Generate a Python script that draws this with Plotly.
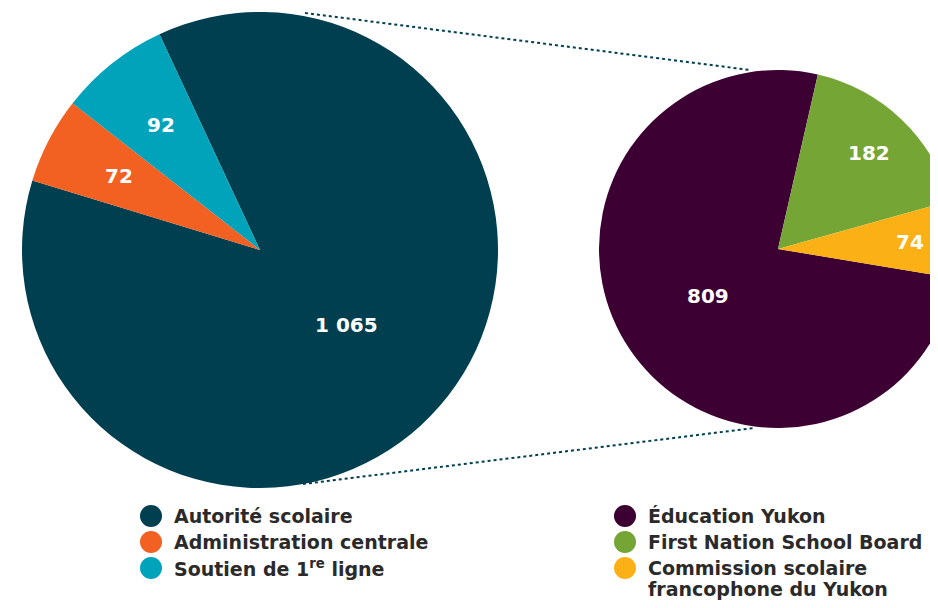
import math
import plotly.graph_objects as go

# ---- data ----
left_labels = ["Autorité scolaire", "Administration centrale", "Soutien de 1<sup>re</sup> ligne"]
left_values = [1065, 72, 92]
left_text = ["1 065", "72", "92"]
left_colors = ["#003f50", "#f26122", "#00a3b9"]

right_labels = ["Éducation Yukon", "First Nation School Board", "Commission scolaire<br>francophone du Yukon"]
right_values = [809, 182, 74]
right_text = ["809", "182", "74"]
right_colors = ["#3d0033", "#74a535", "#fbb116"]

# ---- style / layout constants (pixels in the 938x608 view) ----
OFF = 8                      # page body margin
W, H = 960, 600
FONT = "DejaVu Sans"
TXT = "#2b2a2a"
LEFT_ROT, RIGHT_ROT = -25, 99.4
left_label_r = [0.48, 0.67, 0.67]
right_label_r = [0.47, 0.74, 0.74]

def px_x(x):
    return (x - OFF) / W

def px_y(y):
    return (H - (y - OFF)) / H

Lc, Lr = (260, 250), 238
Rc, Rr = (778, 249), 179

fig = go.Figure()
annotations = []
shapes = []

def add_pie(labels, values, texts, colors, rot, centre, radius, label_r):
    fig.add_trace(go.Pie(
        labels=labels, values=values, textinfo="none",
        marker=dict(colors=colors, line=dict(width=0)),
        sort=False, direction="clockwise", rotation=rot,
        domain=dict(x=[px_x(centre[0] - radius), px_x(centre[0] + radius)],
                    y=[px_y(centre[1] + radius), px_y(centre[1] - radius)]),
        showlegend=False, hoverinfo="label+value",
    ))
    total = sum(values)
    start = rot
    for v, t, fr in zip(values, texts, label_r):
        span = 360.0 * v / total
        mid = math.radians(start + span / 2)
        x = centre[0] + fr * radius * math.sin(mid)
        y = centre[1] - fr * radius * math.cos(mid)
        annotations.append(dict(xref="paper", yref="paper", x=px_x(x), y=px_y(y),
                                xanchor="center", yanchor="middle", text=t, showarrow=False,
                                font=dict(family=FONT, size=20, color="white", weight="bold")))
        start += span

add_pie(left_labels, left_values, left_text, left_colors, LEFT_ROT, Lc, Lr, left_label_r)
add_pie(right_labels, right_values, right_text, right_colors, RIGHT_ROT, Rc, Rr, right_label_r)

# connector dotted lines
for (x0, y0, x1, y1) in [(305, 13, 750, 70), (303, 484, 754, 428)]:
    shapes.append(dict(type="line", xref="paper", yref="paper",
                       x0=px_x(x0), y0=px_y(y0), x1=px_x(x1), y1=px_y(y1),
                       line=dict(color="#003f50", width=2, dash="dot"), layer="below"))

rows_y = [516, 542, 568]
LINE_STEP = 21
def add_legend(labels, colors, cx, tx):
    for lab, col, y in zip(labels, colors, rows_y):
        shapes.append(dict(type="circle", xref="paper", yref="paper",
                           xsizemode="pixel", ysizemode="pixel",
                           xanchor=px_x(cx), yanchor=px_y(y),
                           x0=-11, x1=11, y0=-11, y1=11,
                           fillcolor=col, line=dict(width=0)))
        for k, part in enumerate(lab.split("<br>")):
            annotations.append(dict(xref="paper", yref="paper", x=px_x(tx), y=px_y(y + k * LINE_STEP),
                                    xanchor="left", yanchor="middle", align="left",
                                    text=part, showarrow=False,
                                    font=dict(family=FONT, size=19, color=TXT, weight="bold")))

add_legend(left_labels, left_colors, 151, 172)
add_legend(right_labels, right_colors, 625, 646)

fig.update_layout(
    width=W, height=H, margin=dict(l=0, r=0, t=0, b=0),
    paper_bgcolor="white", plot_bgcolor="white",
    shapes=shapes, annotations=annotations,
)
fig.write_html("out.html")
